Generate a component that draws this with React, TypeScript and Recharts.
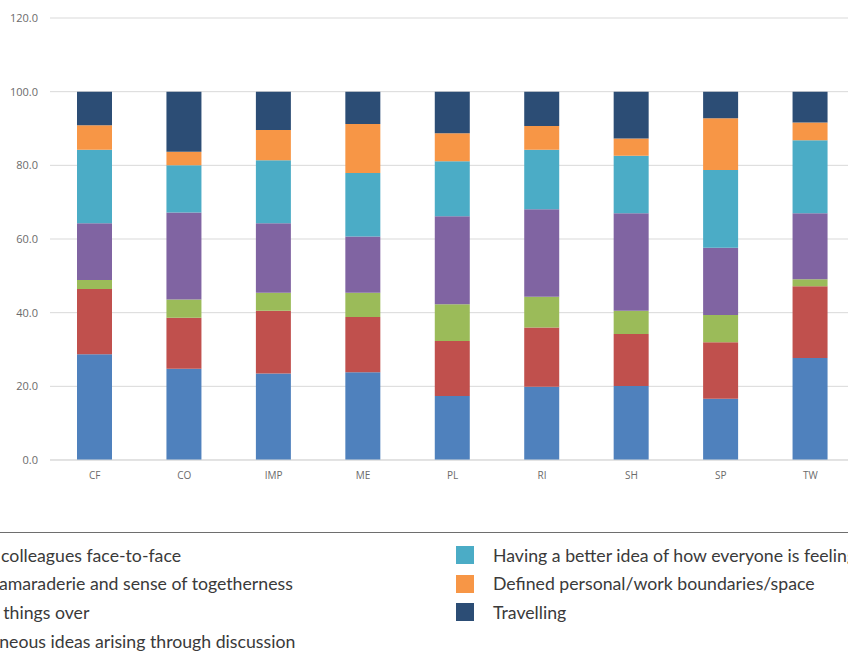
import { BarChart, Bar, XAxis, YAxis, CartesianGrid } from "recharts";

const categories = ["CF", "CO", "IMP", "ME", "PL", "RI", "SH", "SP", "TW"];

const faceToFace = [28.7, 24.8, 23.5, 23.8, 17.4, 19.9, 20.1, 16.6, 27.7];
const camaraderie = [17.7, 13.8, 17.0, 15.0, 14.9, 16.1, 14.1, 15.4, 19.5];
const talkingOver = [2.5, 5.0, 4.9, 6.6, 10.0, 8.3, 6.3, 7.4, 1.9];
const spontaneous = [15.4, 23.6, 18.9, 15.3, 23.9, 23.8, 26.5, 18.2, 17.9];
const feeling = [19.9, 12.8, 17.1, 17.2, 14.9, 16.1, 15.6, 21.1, 19.8];
const boundaries = [6.7, 3.7, 8.2, 13.3, 7.6, 6.5, 4.7, 14.1, 4.8];
const travelling = [9.1, 16.3, 10.4, 8.8, 11.3, 9.3, 12.7, 7.2, 8.4];

const yTicks = [0, 20, 40, 60, 80, 100, 120];

const series = [
  { key: "faceToFace", label: "Seeing colleagues face-to-face", color: "#4F81BD", values: faceToFace },
  { key: "camaraderie", label: "Team camaraderie and sense of togetherness", color: "#C0504D", values: camaraderie },
  { key: "talkingOver", label: "Talking things over", color: "#9BBB59", values: talkingOver },
  { key: "spontaneous", label: "Spontaneous ideas arising through discussion", color: "#8064A2", values: spontaneous },
  { key: "feeling", label: "Having a better idea of how everyone is feeling", color: "#4BACC6", values: feeling },
  { key: "boundaries", label: "Defined personal/work boundaries/space", color: "#F79646", values: boundaries },
  { key: "travelling", label: "Travelling", color: "#2C4D75", values: travelling },
];

const data = categories.map((name, i) => {
  const row: Record<string, string | number> = { name };
  series.forEach((s) => {
    row[s.key] = s.values[i];
  });
  return row;
});

const tickStyle = { fill: "#6b6b6b", fontSize: 11, fontFamily: "Open Sans" };

function LegendItem({ label, color, left, top }: { label: string; color: string; left: number; top: number }) {
  return (
    <div style={{ position: "absolute", left, top, height: 20, display: "flex", alignItems: "center", whiteSpace: "nowrap" }}>
      <div style={{ width: 18, height: 18, background: color, marginRight: 19 }} />
      <span style={{ fontFamily: "Lato", fontSize: 17.7, color: "#3a3a3a" }}>{label}</span>
    </div>
  );
}

export default function App() {
  const leftCol = series.slice(0, 4);
  const rightCol = series.slice(4);
  return (
    <div
      style={{
        position: "fixed",
        left: 0,
        top: 0,
        width: 848,
        height: 655,
        overflow: "hidden",
        background: "#fff",
      }}
    >
      <BarChart
        width={860}
        height={500}
        data={data}
        margin={{ top: 18, right: 5, left: 0, bottom: 10 }}
      >
        <CartesianGrid vertical={false} stroke="#d9d9d9" />
        <XAxis
          dataKey="name"
          height={30}
          tick={{ ...tickStyle, fontSize: 10 }}
          tickSize={0}
          tickMargin={12}
          axisLine={{ stroke: "#d9d9d9" }}
        />
        <YAxis
          width={50}
          domain={[0, 120]}
          ticks={yTicks}
          tick={tickStyle}
          tickSize={0}
          tickMargin={12}
          axisLine={false}
          tickFormatter={(v: number) => v.toFixed(1)}
        />
        {series.map((s) => (
          <Bar
            key={s.key}
            dataKey={s.key}
            stackId="a"
            fill={s.color}
            barSize={35}
            isAnimationActive={false}
          />
        ))}
      </BarChart>
      <div style={{ position: "absolute", left: 0, top: 532, width: 848, height: 1, background: "#6e6e6e" }} />
      {leftCol.map((s, i) => (
        <LegendItem key={s.key} label={s.label} color={s.color} left={-92} top={545 + i * 28.7} />
      ))}
      {rightCol.map((s, i) => (
        <LegendItem key={s.key} label={s.label} color={s.color} left={456} top={545 + i * 28.7} />
      ))}
    </div>
  );
}
